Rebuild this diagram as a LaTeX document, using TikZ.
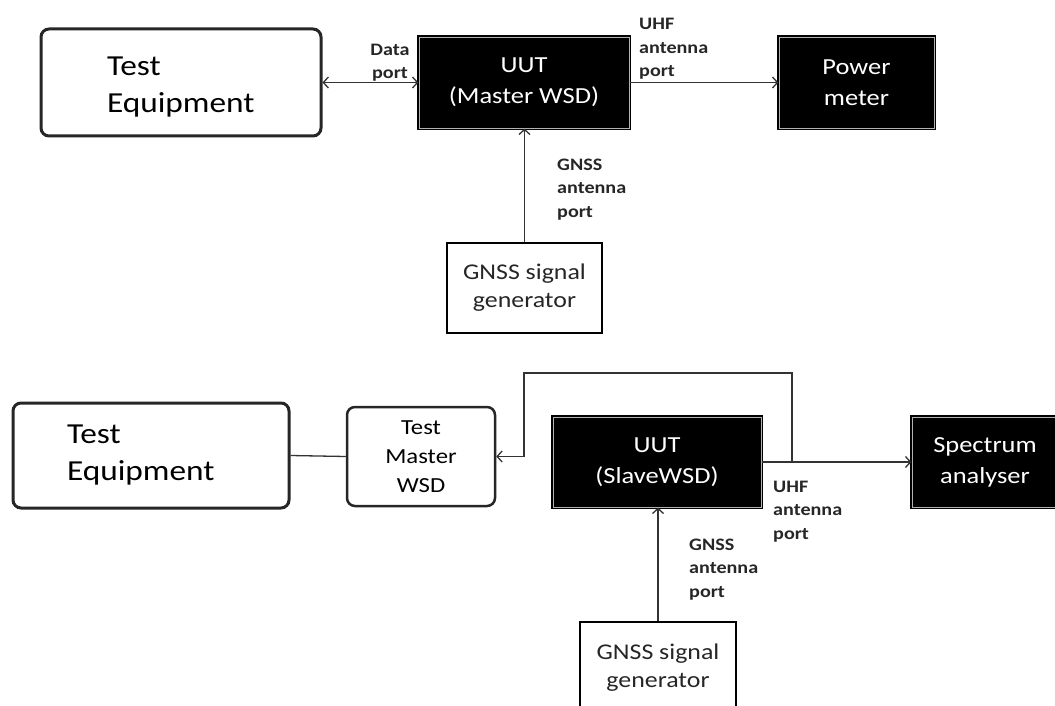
\documentclass[tikz,border=0pt]{standalone}
\usepackage{fontspec}
\setmainfont[FakeStretch=1.15]{Carlito}
\usetikzlibrary{arrows.meta}
\tikzset{
  tebox/.style={draw=black!85, line width=3pt, rounded corners=8pt, align=left,
    font=\fontsize{29}{37}\selectfont},
  mbox/.style={draw=black!85, line width=2.5pt, rounded corners=8pt, align=center,
    font=\fontsize{21.5}{29}\selectfont},
  blackbox/.style={fill=black, draw=black, double=gray!60, double distance=0.6pt,
    line width=1.3pt, text=white, align=center, font=\fontsize{23}{31}\selectfont},
  genbox/.style={draw=black, line width=2.5pt, align=center, inner sep=0pt,
    font=\fontsize{22.5}{28}\selectfont, text=black!85},
  lbl/.style={align=left, inner sep=0pt, text=black!85,
    font=\bfseries\fontsize{17.5}{23.5}\selectfont},
  conn/.style={draw=black!80, line width=1.3pt},
  arr/.style={conn, -{Straight Barb[length=5pt,width=11pt]}},
  darr/.style={conn, {Straight Barb[length=5pt,width=11pt]}-{Straight Barb[length=5pt,width=11pt]}},
}
\begin{document}
\begin{tikzpicture}[x=1pt, y=-1pt]
\useasboundingbox (0,0) rectangle (1055,706);
\clip (0,0) rectangle (1055,706);
% ---- top diagram ----
\node[tebox, minimum width=280pt, minimum height=107pt, inner xsep=66pt, text width=148pt, text depth=32pt] (te1) at (181,82.5) {Test\\Equipment};
\node[blackbox, minimum width=210pt, minimum height=91pt] (uut1) at (524,82.5) {UUT\\(Master WSD)};
\node[blackbox, minimum width=155pt, minimum height=91pt] (pm) at (856.5,82.5) {Power\\meter};
\node[genbox, minimum width=155pt, minimum height=90pt] (gen1) at (524.5,288) {GNSS signal\\generator};
\draw[darr] (te1.east) -- (uut1.west);
\draw[arr] (uut1.east) -- (pm.west);
\draw[arr] (gen1.north) -- (gen1.north |- uut1.south);
\node[lbl, align=center, anchor=base] (dp) at (390,79) {Data\\port};
\node[lbl, anchor=base west] (uhf1) at (639,77) {UHF\\antenna\\port};
\node[lbl, anchor=base west] (gn1) at (557,217) {GNSS\\antenna\\port};
% ---- bottom diagram ----
\node[tebox, minimum width=276pt, minimum height=105pt, inner xsep=54pt, text width=168pt] (te2) at (151,455.5) {Test\\Equipment};
\node[mbox, minimum width=148pt, minimum height=99pt] (tm) at (421,456.5) {Test\\Master\\WSD};
\node[blackbox, minimum width=208pt, minimum height=90pt] (uut2) at (657,462) {UUT\\(SlaveWSD)};
\node[blackbox, minimum width=146pt, minimum height=90pt] (sa) at (985,462) {Spectrum\\analyser};
\node[genbox, minimum width=156pt, minimum height=92pt] (gen2) at (658,668) {GNSS signal\\generator};
\coordinate (j) at (792,462);
\draw[conn] (te2.east) -- (tm.west);
\draw[arr] (uut2.east) -- (sa.west);
\draw[arr] (j) -- (792,373) -- (524,373) -- (524,456.5) -- (tm.east);
\draw[arr] (gen2.north) -- (gen2.north |- uut2.south);
\node[lbl, anchor=base west] (uhf2) at (773,539) {UHF\\antenna\\port};
\node[lbl, anchor=base west] (gn2) at (689,597) {GNSS\\antenna\\port};
\end{tikzpicture}
\end{document}
